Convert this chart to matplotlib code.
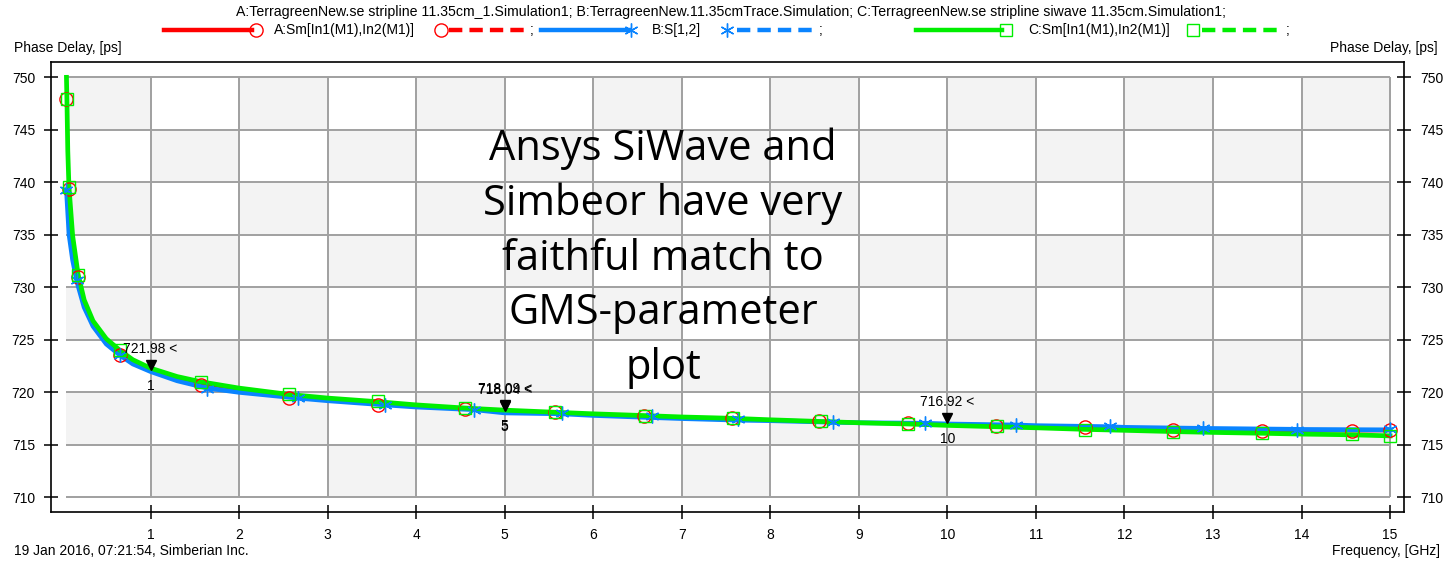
import matplotlib
matplotlib.use('Agg')
import matplotlib.pyplot as plt
from matplotlib.lines import Line2D
from matplotlib.patches import Rectangle
import matplotlib.transforms as mtransforms

W, H, DPI = 1446, 563, 100

# ---------------- data ----------------
freq_a = [0.05, 0.06, 0.08, 0.12, 0.18, 0.25, 0.35, 0.5, 0.66, 0.8, 1.0, 1.3, 1.57, 2.0, 2.56,
          3.0, 3.57, 4.0, 4.55, 5.0, 5.57, 6.0, 6.57, 7.0, 7.57, 8.0, 8.55, 9.0, 9.55, 10.0,
          10.55, 11.0, 11.55, 12.0, 12.55, 13.0, 13.55, 14.0, 14.57, 15.0]
phase_a = [749.8, 747.9, 739.4, 734.6, 731.0, 728.6, 726.6, 724.9, 723.7, 722.9, 722.0, 721.3, 720.8,
           720.2, 719.6, 719.25, 718.9, 718.65, 718.4, 718.09, 718.05, 717.9, 717.7, 717.6, 717.5,
           717.4, 717.25, 717.15, 717.05, 716.92, 716.8, 716.7, 716.6, 716.5, 716.45, 716.4,
           716.35, 716.3, 716.28, 716.3]
mfreq_a = [0.05, 0.08, 0.18, 0.66, 1.57, 2.56, 3.57, 4.55, 5.57, 6.57, 7.57, 8.55, 9.55, 10.55,
           11.55, 12.55, 13.55, 14.57, 15.0]
mphase_a = [747.9, 739.4, 731.0, 723.6, 720.7, 719.5, 718.8, 718.45, 718.1, 717.7, 717.55, 717.25,
            717.05, 716.75, 716.65, 716.45, 716.35, 716.3, 716.45]

freq_b = [0.05, 0.08, 0.12, 0.17, 0.25, 0.35, 0.5, 0.66, 0.8, 1.0, 1.3, 1.64, 2.0, 2.66, 3.0,
          3.65, 4.0, 4.65, 5.0, 5.65, 6.0, 6.66, 7.0, 7.64, 8.0, 8.71, 9.0, 9.75, 10.0, 10.78,
          11.0, 11.84, 12.0, 12.89, 13.0, 13.95, 14.0, 15.0]
phase_b = [739.3, 735.0, 732.6, 730.5, 728.1, 726.3, 724.6, 723.5, 722.7, 721.98, 721.1, 720.4,
           720.0, 719.45, 719.2, 718.8, 718.6, 718.35, 718.04, 717.95, 717.8, 717.6, 717.5,
           717.35, 717.3, 717.15, 717.1, 717.05, 716.98, 716.88, 716.82, 716.72, 716.66,
           716.56, 716.55, 716.47, 716.46, 716.42]
mfreq_b = [0.05, 0.165, 0.66, 1.64, 2.66, 3.65, 4.65, 5.65, 6.66, 7.64, 8.71, 9.75, 10.78, 11.84,
           12.89, 13.95, 15.0]
mphase_b = [739.25, 730.7, 723.6, 720.3, 719.5, 718.8, 718.35, 718.05, 717.7, 717.45, 717.2,
            717.1, 716.9, 716.75, 716.6, 716.45, 716.55]

freq_c = [0.05, 0.055, 0.065, 0.078, 0.12, 0.18, 0.25, 0.35, 0.5, 0.66, 0.8, 1.0, 1.3, 1.57,
          2.0, 2.56, 3.0, 3.57, 4.0, 4.55, 5.0, 5.57, 6.0, 6.59, 7.0, 7.58, 8.0, 8.57, 9.0,
          9.56, 10.0, 10.56, 11.0, 11.56, 12.0, 12.55, 13.0, 13.55, 14.0, 14.57, 15.0]
phase_c = [750.0, 747.9, 743.0, 739.6, 734.9, 731.3, 728.8, 726.8, 725.1, 723.95, 723.1, 722.3,
           721.5, 721.0, 720.4, 719.8, 719.45, 719.1, 718.8, 718.5, 718.3, 718.1, 717.95,
           717.78, 717.65, 717.52, 717.38, 717.22, 717.1, 716.98, 716.85, 716.72, 716.62,
           716.47, 716.38, 716.26, 716.18, 716.1, 716.02, 715.95, 715.85]
mfreq_c = [0.055, 0.078, 0.18, 0.66, 1.57, 2.56, 3.57, 4.55, 5.57, 6.59, 7.58, 8.57, 9.56, 10.56,
           11.56, 12.55, 13.55, 14.57, 15.0]
mphase_c = [747.9, 739.6, 731.2, 724.0, 721.0, 719.8, 719.15, 718.55, 718.1, 717.75, 717.55,
            717.25, 717.0, 716.75, 716.45, 716.25, 716.15, 716.0, 715.8]

grid_x = [0.05] + list(range(1, 16))
grid_y = [710, 715, 720, 725, 730, 735, 740, 745, 750]
xticks = list(range(1, 16))
yticks = grid_y

mk_freq = [1, 5, 5, 10]
mk_val = [721.98, 718.09, 718.04, 716.92]
mk_name = ['1', '5', '5', '10']

title_txt = ('A:TerragreenNew.se stripline 11.35cm_1.Simulation1; B:TerragreenNew.11.35cmTrace.Simulation; '
             'C:TerragreenNew.se stripline siwave 11.35cm.Simulation1;')
leg_a = 'A:Sm[In1(M1),In2(M1)]'
leg_b = 'B:S[1,2]'
leg_c = 'C:Sm[In1(M1),In2(M1)]'
note_txt = 'Ansys SiWave and\nSimbeor have very\nfaithful match to\nGMS-parameter\nplot'

# ---------------- styles ----------------
SMALL = ['Liberation Sans', 'DejaVu Sans']
RED, BLUE, GREEN = '#ff0000', '#0a84ff', '#00ee00'
GRIDC = '#a0a0a0'
SHADE = '#f3f3f3'

plt.rcParams['font.family'] = SMALL

fig = plt.figure(figsize=(W / DPI, H / DPI), dpi=DPI)
fig.patch.set_facecolor('white')
ax = fig.add_axes([50.7 / W, 1 - 512.3 / H, (1404.3 - 50.7) / W, (512.3 - 61.7) / H])
ax.set_xlim(-0.128, 15.161)
ax.set_ylim(708.57, 751.49)

# checkerboard background
ny = len(grid_y) - 1
for i in range(len(grid_x) - 1):
    for j in range(ny):
        row_from_top = ny - 1 - j
        if (i + row_from_top) % 2 == 0:
            ax.add_patch(Rectangle((grid_x[i], grid_y[j]), grid_x[i + 1] - grid_x[i],
                                   grid_y[j + 1] - grid_y[j], facecolor=SHADE,
                                   edgecolor='none', zorder=0))
ax.hlines(grid_y, grid_x[0], grid_x[-1], colors=GRIDC, lw=1.4, zorder=1)
ax.vlines(xticks, grid_y[0], grid_y[-1], colors=GRIDC, lw=1.4, zorder=1)

ax.set_xticks(xticks)
ax.set_yticks(yticks)
ax.tick_params(direction='inout', length=10.5, width=1.1, pad=6.0, labelsize=10,
               right=True, labelright=True, top=False, colors='black')
for s in ax.spines.values():
    s.set_linewidth(1.2)
    s.set_color('black')

# curves
ax.plot(freq_a, phase_a, color=RED, lw=1.6, zorder=3)
ax.plot(freq_b, phase_b, color=BLUE, lw=3.4, zorder=4)
ax.plot(freq_c, phase_c, color=GREEN, lw=3.4, zorder=5)
ax.plot(mfreq_a, mphase_a, ls='none', marker='o', mfc='none', mec=RED, ms=9.5, mew=1.0, zorder=6)
ax.plot(mfreq_b, mphase_b, ls='none', marker=(6, 2, 0), color=BLUE, ms=10, mew=1.0, zorder=6)
ax.plot(mfreq_c, mphase_c, ls='none', marker='s', mfc='none', mec=GREEN, ms=9, mew=1.0, zorder=7)

# marker annotations
tri_tr = mtransforms.offset_copy(ax.transData, fig=fig, x=0, y=7, units='dots')
for f, v, n in zip(mk_freq, mk_val, mk_name):
    ax.plot([f], [v], ls='none', marker='v', color='black', ms=7, transform=tri_tr, zorder=9)
    ax.annotate(f'{v:.2f} <', (f, v), xytext=(0, 23), textcoords='offset pixels',
                ha='center', va='center', fontsize=10, zorder=9)
    ax.annotate(n, (f, v), xytext=(0, -14), textcoords='offset pixels',
                ha='center', va='center', fontsize=10, zorder=9)

# big note
fig.text(663 / W, 1 - 258 / H, note_txt, ha='center', va='center', fontsize=30,
         family=['Open Sans', 'DejaVu Sans'], linespacing=1.39, color='black', zorder=10)

# axis captions
fig.text(14 / W, 1 - 48 / H, 'Phase Delay, [ps]', ha='left', va='center', fontsize=10)
fig.text(1438 / W, 1 - 48 / H, 'Phase Delay, [ps]', ha='right', va='center', fontsize=10)
fig.text(14 / W, 1 - 551 / H, '19 Jan 2016, 07:21:54, Simberian Inc.', ha='left', va='center', fontsize=10)
fig.text(1440 / W, 1 - 551 / H, 'Frequency, [GHz]', ha='right', va='center', fontsize=10)

# title + legend row
fig.text(731 / W, 1 - 12 / H, title_txt, ha='center', va='center', fontsize=10.2)


def P(x, y):
    return x / W, 1 - y / H


ly = 30


def seg(x0, x1, color, ls, lw=3.2):
    (a, b), (c, d) = P(x0, ly), P(x1, ly)
    fig.add_artist(Line2D([a, c], [b, d], color=color, ls=ls, lw=lw, transform=fig.transFigure,
                          dashes=(3, 1.6) if ls == '--' else (None, None)))


def mk(x, color, marker, ms):
    a, b = P(x, ly)
    fig.add_artist(Line2D([a], [b], ls='none', marker=marker, mfc='none' if marker != (6, 2, 0) else color,
                          mec=color, ms=ms, mew=1.0, transform=fig.transFigure))


def txt(x, s):
    a, b = P(x, ly)
    fig.text(a, b, s, ha='left', va='center', fontsize=10)


seg(164, 252, RED, '-')
mk(256, RED, 'o', 9.5)
txt(274, leg_a)
mk(441, RED, 'o', 9.5)
seg(449, 526, RED, '--')
txt(530, ';')
seg(541, 629, BLUE, '-')
mk(631, BLUE, (6, 2, 0), 10)
txt(652, leg_b)
mk(727, BLUE, (6, 2, 0), 10)
seg(737, 812, BLUE, '--')
txt(819, ';')
seg(916, 1002, GREEN, '-')
mk(1006, GREEN, 's', 9)
txt(1028, leg_c)
mk(1193, GREEN, 's', 9)
seg(1202, 1278, GREEN, '--')
txt(1286, ';')

fig.savefig('out.png', dpi=DPI, facecolor='white')
